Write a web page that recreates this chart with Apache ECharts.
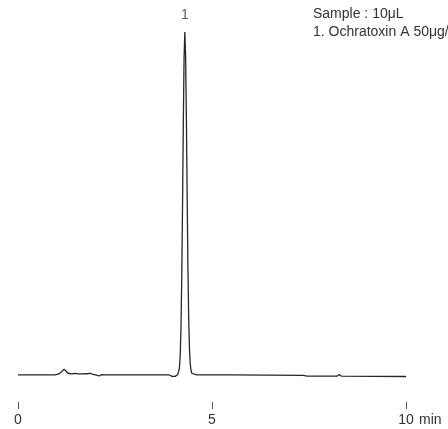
<!DOCTYPE html>
<html>
<head>
<meta charset="utf-8">
<script src="https://cdn.jsdelivr.net/npm/echarts@6/dist/echarts.min.js"></script>
<style>html,body{margin:0;padding:0;background:#fff}#c{width:448px;height:429px}</style>
</head>
<body>
<div id="c"></div>
<script>
// retention time (min)
const times = [0, 0.5, 0.95, 1.05, 1.13, 1.19, 1.24, 1.29, 1.39, 1.47, 1.55, 1.65, 1.78, 1.86, 1.93, 2.01, 2.09, 2.16, 2.24, 3.0, 3.9, 3.97, 4.05, 4.1, 4.12, 4.14, 4.16, 4.18, 4.20, 4.22, 4.24, 4.26, 4.28, 4.30, 4.32, 4.34, 4.36, 4.38, 4.40, 4.42, 4.44, 4.46, 4.48, 4.52, 4.6, 5.5, 7.35, 7.45, 8.22, 8.28, 8.34, 10];
// detector signal (relative)
const signal = [0, 0, 0, 0.3, 1.0, 1.7, 1.1, 0.5, 0.3, 0.45, 0.3, 0.3, 0.35, 0.5, 0.2, 0, -0.3, 0.1, 0, 0, 0, -0.4, -0.4, -0.2, 0.15, 0.6, 2.0, 5.6, 13.5, 27.8, 48.7, 72.6, 92.3, 100, 93, 75, 52, 31, 16, 7.5, 3.2, 1.3, 0.5, 0.1, 0, 0, -0.1, -0.35, -0.35, 0.1, -0.35, -0.45];
const peakTimes = [4.30];
const peakHeights = [100];
const peakLabels = ['1'];
const xTicks = [0, 5, 10];
const xUnit = 'min';
const notes = ['Sample : 10μL', '1. Ochratoxin A 50μg/mL'];

const FONT = 'Arial, "Liberation Sans", sans-serif';
const FS = 14;
const lineData = times.map((t, i) => [t, signal[i]]);
const peakData = peakTimes.map((t, i) => ({ value: [t, peakHeights[i]], name: peakLabels[i] }));

const chart = echarts.init(document.getElementById('c'));
chart.setOption({
  animation: false,
  backgroundColor: '#fff',
  grid: { left: 18, right: 42, top: 32, bottom: 50.6 },
  xAxis: {
    type: 'value', min: xTicks[0], max: xTicks[xTicks.length - 1], interval: xTicks[1] - xTicks[0],
    offset: 23.6,
    axisLine: { show: false, onZero: false },
    axisTick: { show: true, length: 7, lineStyle: { color: '#555', width: 1 } },
    splitLine: { show: false },
    axisLabel: { margin: 11, color: '#333', fontSize: FS, fontFamily: FONT }
  },
  yAxis: { type: 'value', min: -1, max: 100, show: false },
  graphic: [
    { type: 'text', left: 419, top: 413, style: { text: xUnit, fill: '#333', fontSize: FS, fontFamily: FONT } },
    { type: 'text', left: 313, top: 7.5, style: { text: notes[0], fill: '#333', fontSize: FS, fontFamily: FONT } },
    { type: 'text', left: 313, top: 25.5, style: { text: notes[1], fill: '#333', fontSize: FS, fontFamily: FONT } }
  ],
  series: [{
    type: 'line', data: lineData, showSymbol: false, symbol: 'none', smooth: false,
    lineStyle: { color: '#262626', width: 1.3 }
  }, {
    type: 'scatter', data: peakData, symbolSize: 1, itemStyle: { color: 'rgba(0,0,0,0)' },
    label: { show: true, position: 'top', distance: 9, formatter: '{b}', color: '#333', fontSize: FS, fontFamily: FONT }
  }]
});
</script>
</body>
</html>
